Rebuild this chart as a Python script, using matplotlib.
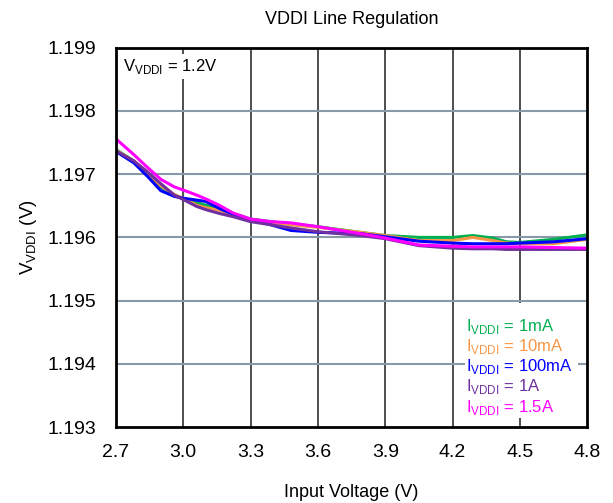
import numpy as np
import matplotlib.pyplot as plt
from matplotlib.patches import Rectangle

plt.rcParams['font.family'] = ['Liberation Sans', 'DejaVu Sans']

# Tension d'entrée (V)
vin = [2.7, 2.78, 2.84, 2.9, 2.96, 3.0, 3.06, 3.1, 3.16, 3.22, 3.3, 3.39, 3.48, 3.6,
       3.79, 3.9, 4.05, 4.2, 4.29, 4.38, 4.44, 4.5, 4.65, 4.8]

# V_VDDI (V) pour chaque courant de charge
v_1ma = [1.19739, 1.19721, 1.19701, 1.19680, 1.19667, 1.19661, 1.19655, 1.19651, 1.19647,
         1.19638, 1.19629, 1.19625, 1.19621, 1.19617, 1.19608, 1.19603, 1.19600, 1.19600,
         1.19603, 1.19599, 1.19593, 1.19592, 1.19597, 1.19604]
v_10ma = [1.19738, 1.19721, 1.19702, 1.19682, 1.19668, 1.19662, 1.19651, 1.19647, 1.19643,
          1.19636, 1.19628, 1.19624, 1.19620, 1.19616, 1.19608, 1.19603, 1.19595, 1.19595,
          1.19600, 1.19595, 1.19591, 1.19590, 1.19590, 1.19597]
v_100ma = [1.19736, 1.19718, 1.19697, 1.19674, 1.19665, 1.19662, 1.19659, 1.19657, 1.19646,
           1.19637, 1.19628, 1.19620, 1.19611, 1.19608, 1.19606, 1.19601, 1.19594, 1.19591,
           1.19590, 1.19590, 1.19590, 1.19591, 1.19593, 1.19598]
v_1a = [1.19737, 1.19721, 1.19704, 1.19685, 1.19667, 1.19660, 1.19649, 1.19644, 1.19638,
        1.19633, 1.19625, 1.19620, 1.19615, 1.19609, 1.19603, 1.19598, 1.19587, 1.19583,
        1.19582, 1.19582, 1.19581, 1.19581, 1.19581, 1.19581]
v_1p5a = [1.19756, 1.19731, 1.19711, 1.19692, 1.19680, 1.19675, 1.19667, 1.19661, 1.19651,
          1.19639, 1.19629, 1.19625, 1.19623, 1.19617, 1.19606, 1.19599, 1.19588, 1.19586,
          1.19585, 1.19585, 1.19585, 1.19585, 1.19584, 1.19583]

labels = ['1mA', '10mA', '100mA', '1A', '1.5A']
colors = ['#00B050', '#F79646', '#0000FF', '#7030A0', '#FF00FF']
series = [v_1ma, v_10ma, v_100ma, v_1a, v_1p5a]

xticks = [2.7, 3.0, 3.3, 3.6, 3.9, 4.2, 4.5, 4.8]
yticks = [1.193, 1.194, 1.195, 1.196, 1.197, 1.198, 1.199]

fig = plt.figure(figsize=(6.13, 5.03), dpi=100)
ax = fig.add_axes([0.189, 0.151, 0.769, 0.754])

for vals, c in zip(series, colors):
    ax.plot(vin, vals, color=c, linewidth=2.2, solid_joinstyle='round',
            solid_capstyle='butt', zorder=3)

ax.set_xlim(2.7, 4.8)
ax.set_ylim(1.193, 1.199)
ax.set_xticks(xticks)
ax.set_xticklabels([f'{t:.1f}' for t in xticks])
ax.set_yticks(yticks)
ax.set_yticklabels([f'{t:.3f}' for t in yticks])
ax.tick_params(length=0, labelsize=14)
ax.tick_params(axis='x', pad=12)
ax.tick_params(axis='y', pad=14)

for t in xticks[1:-1]:
    ax.axvline(t, color='#303030', linewidth=1.2, zorder=1)
for t in yticks[1:-1]:
    ax.axhline(t, color='#8A99A8', linewidth=1.5, zorder=1)

for s in ax.spines.values():
    s.set_linewidth(2.0)
    s.set_color('black')
    s.set_zorder(6)

ax.set_title('VDDI Line Regulation', fontsize=13, pad=17)
ax.set_xlabel('Input Voltage (V)', fontsize=13, labelpad=17)
ax.set_ylabel(r'V$_{\mathregular{VDDI}}$ (V)', fontsize=13.5, labelpad=6)

# Texte en haut à gauche (fond blanc)
ax.text(0.015, 0.95, r'V$_{\mathregular{VDDI}}$ = 1.2V', transform=ax.transAxes,
        fontsize=12, va='center', ha='left', zorder=5,
        bbox=dict(facecolor='white', edgecolor='none', pad=2))

# Légende faite à la main (texte coloré sur fond blanc)
ax.add_patch(Rectangle((0.741, 0.024), 0.240, 0.303, transform=ax.transAxes,
                       facecolor='white', edgecolor='none', zorder=4))
for i, (lab, c) in enumerate(zip(labels, colors)):
    ax.text(0.743, 0.264 - i * 0.0528, r'I$_{\mathregular{VDDI}}$ = ' + lab, color=c,
            transform=ax.transAxes, fontsize=12, va='center', ha='left', zorder=5)

fig.savefig('out.png', dpi=100)
